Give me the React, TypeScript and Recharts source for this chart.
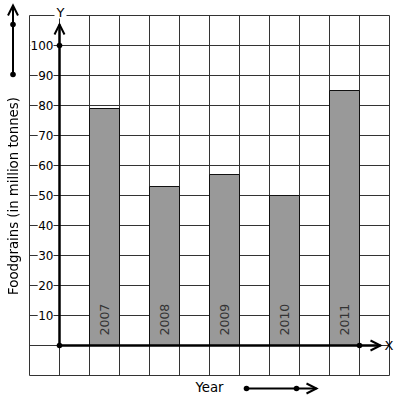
import { BarChart, Bar, XAxis, YAxis, CartesianGrid, ReferenceLine, LabelList } from 'recharts'

const years = ['2007', '2008', '2009', '2010', '2011']
const production = [79, 53, 57, 50, 85]
const yTicks = [-10, 0, 10, 20, 30, 40, 50, 60, 70, 80, 90, 100, 110]
const labelledTicks = [10, 20, 30, 40, 50, 60, 70, 80, 90, 100]
const gridCols = [0, 1, 2, 3, 4, 5, 6, 7, 8, 9, 10, 11, 12]
const slotCount = 12
const firstSlot = 2 // bars sit in every second grid column
const yArrowTop = 107
const yMarked = 100
const xArrowEnd = 11.7
const xMarked = 11

const data: { slot: number; year: string; value: number | null }[] = Array.from(
  { length: slotCount },
  (_, i) => ({ slot: i, year: '', value: null })
)
years.forEach((y, k) => {
  const s = firstSlot + 2 * k
  data[s] = { slot: s, year: y, value: production[k] }
})

const font = 'DejaVu Sans, Verdana, sans-serif'

function Arrow({ x1, y1, x2, y2, width = 2, dots = [] as number[][] }: any) {
  const len = Math.hypot(x2 - x1, y2 - y1) || 1
  const ux = (x2 - x1) / len
  const uy = (y2 - y1) / len
  const L = 10
  const W = 5
  const ax = x2 - ux * L
  const ay = y2 - uy * L
  return (
    <g>
      <line x1={x1} y1={y1} x2={x2} y2={y2} stroke="#000" strokeWidth={width} />
      <polyline
        points={`${ax - uy * W},${ay + ux * W} ${x2},${y2} ${ax + uy * W},${ay - ux * W}`}
        fill="none"
        stroke="#000"
        strokeWidth={2}
      />
      {dots.map((d: number[], i: number) => (
        <circle key={i} cx={d[0]} cy={d[1]} r={2.8} fill="#000" />
      ))}
    </g>
  )
}

function YTick({ x, y, payload }: any) {
  if (!labelledTicks.includes(payload.value)) return <g />
  const label = String(payload.value)
  const w = label.length * 7.4 + 1
  const right = x + 24
  return (
    <g>
      <rect x={right - w} y={y - 6} width={w} height={12} fill="#fff" />
      <text x={right} y={y} textAnchor="end" dominantBaseline="central" fontSize={12} fill="#000" fontFamily={font}>
        {label}
      </text>
    </g>
  )
}

function YTitle({ viewBox }: any) {
  const cx = Math.round(viewBox.x - 16)
  const cy = Math.round(viewBox.y + viewBox.height / 2)
  return (
    <g>
      <g style={{ filter: 'grayscale(1)' }}>
        <text
          x={cx}
          y={cy}
          transform={`rotate(-90 ${cx} ${cy})`}
          textAnchor="middle"
          dominantBaseline="central"
          fontSize={13.3}
          fontFamily={font}
          fill="#000"
        >
          Foodgrains (in million tonnes)
        </text>
      </g>
      <Arrow x1={cx} y1={viewBox.y + 59} x2={cx} y2={viewBox.y - 10} dots={[[cx, viewBox.y + 9], [cx, viewBox.y + 59]]} />
    </g>
  )
}

function XTitle({ viewBox }: any) {
  const cx = viewBox.x + viewBox.width / 2
  const cy = viewBox.y + 12
  return (
    <g>
      <text x={cx} y={cy} textAnchor="middle" dominantBaseline="central" fontSize={13.3} fontFamily={font} fill="#000">
        Year
      </text>
      <Arrow x1={cx + 37} y1={cy + 1} x2={cx + 107} y2={cy + 1} dots={[[cx + 37, cy + 1], [cx + 87, cy + 1]]} />
    </g>
  )
}

function BarYear({ x, y, width, height, value }: any) {
  if (!value) return null
  const cx = x + width / 2
  const by = y + height - 10
  return (
    <text
      x={cx}
      y={by}
      transform={`rotate(-90 ${cx} ${by})`}
      textAnchor="start"
      dominantBaseline="central"
      fontSize={12.5}
      fontFamily={font}
      fill="#333"
    >
      {value}
    </text>
  )
}

function YAxisLine({ x1, y1, x2, y2 }: any) {
  const my = y1 + ((y2 - y1) * yMarked) / yArrowTop
  return (
    <g>
      <Arrow x1={x1} y1={y1} x2={x2} y2={y2} width={2.5} dots={[[x1, y1], [x1, my]]} />
      <rect x={x2 - 5} y={y2 - 18} width={12} height={12} fill="#fff" />
      <text x={x2 + 1} y={y2 - 12} textAnchor="middle" dominantBaseline="central" fontSize={13} fontFamily={font} fill="#000">
        Y
      </text>
    </g>
  )
}

function XAxisLine({ x1, y1, x2, y2 }: any) {
  const mx = x1 + ((x2 - x1) * (xMarked - 1)) / (xArrowEnd - 1)
  return (
    <g>
      <Arrow x1={x1} y1={y1} x2={x2} y2={y2} width={2.5} dots={[[mx, y1]]} />
      <text x={x2 + 4} y={y2} textAnchor="start" dominantBaseline="central" fontSize={13} fontFamily={font} fill="#000">
        X
      </text>
    </g>
  )
}

export default function App() {
  return (
    <div style={{ position: 'absolute', left: 0, top: 0, width: 397, height: 401, background: '#fff' }}>
      <BarChart
        width={397}
        height={401}
        data={data}
        margin={{ top: 15.5, right: 7.5, bottom: 24.5, left: 28.5 }}
        barCategoryGap={0}
        style={{ fontFamily: font }}
      >
        <CartesianGrid xAxisId="g" stroke="#333" strokeWidth={1} />
        <XAxis xAxisId="g" type="number" dataKey="slot" domain={[0, slotCount]} ticks={gridCols} hide />
        <XAxis
          dataKey="slot"
          height={1}
          tick={false}
          axisLine={false}
          tickLine={false}
          label={<XTitle />}
        />
        <YAxis
          type="number"
          domain={[-10, 110]}
          ticks={yTicks}
          interval={0}
          width={1}
          tickSize={0}
          tickMargin={0}
          axisLine={false}
          tickLine={false}
          tick={<YTick />}
          label={<YTitle />}
        />
        <Bar dataKey="value" fill="#999999" stroke="#111" strokeWidth={1} isAnimationActive={false}>
          <LabelList dataKey="year" content={<BarYear />} />
        </Bar>
        <ReferenceLine
          xAxisId="g"
          segment={[{ x: 1, y: 0 }, { x: 1, y: yArrowTop }]}
          ifOverflow="visible"
          shape={YAxisLine}
        />
        <ReferenceLine
          xAxisId="g"
          segment={[{ x: 1, y: 0 }, { x: xArrowEnd, y: 0 }]}
          ifOverflow="visible"
          shape={XAxisLine}
        />
      </BarChart>
    </div>
  )
}
